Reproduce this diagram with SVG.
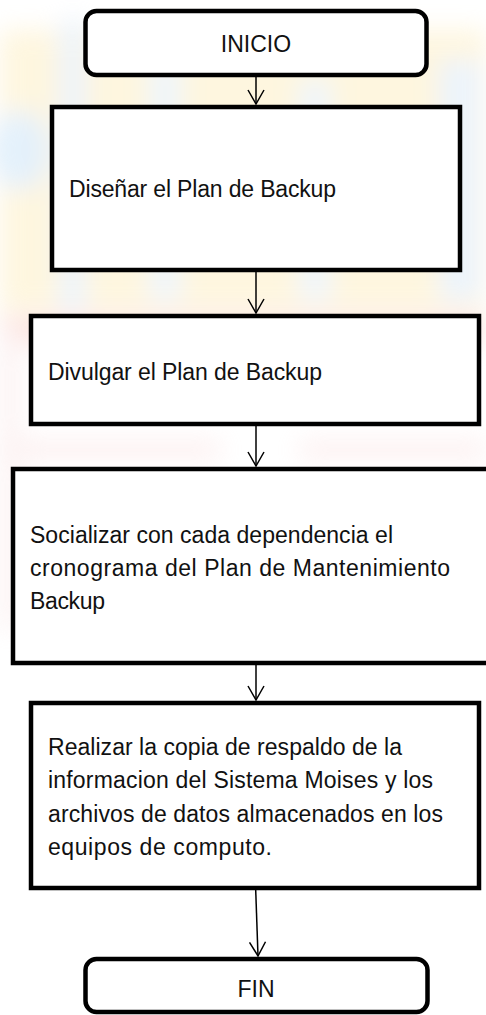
<svg xmlns="http://www.w3.org/2000/svg" width="486" height="1015" viewBox="0 0 486 1015">
<style>
.box{fill:#ffffff;stroke:#000000;stroke-width:4.5}
.t{font-family:"Liberation Sans",Arial,sans-serif;font-size:23px;fill:#111111}
.c{text-anchor:middle}
.ln{stroke:#000000;stroke-width:1.5;fill:none}
</style>
<defs>
<filter id="blur" x="-30%" y="-30%" width="160%" height="160%"><feGaussianBlur stdDeviation="12"/></filter>
<marker id="arr" viewBox="0 0 16 18" refX="15" refY="9" markerWidth="16" markerHeight="18" markerUnits="userSpaceOnUse" orient="auto">
<path d="M1,1 L15,9 L1,17" fill="none" stroke="#000" stroke-width="1.5"/>
</marker>
</defs>
<g id="background" filter="url(#blur)" opacity="0.4">
<rect x="0" y="30" width="486" height="280" fill="#fde9b0"/>
<rect x="60" y="20" width="25" height="290" fill="#cfe3f7"/>
<rect x="150" y="60" width="30" height="240" fill="#d6e8f7"/>
<rect x="300" y="80" width="30" height="220" fill="#d6e8f7"/>
<rect x="440" y="60" width="40" height="240" fill="#cfe3f7"/>
<ellipse cx="20" cy="150" rx="30" ry="40" fill="#bcdcf5"/>
<rect x="0" y="315" width="486" height="30" fill="#f7c0b5"/>
<rect x="20" y="440" width="200" height="20" fill="#f9dcdc"/>
<rect x="300" y="440" width="186" height="20" fill="#f9dcdc"/>
<rect x="0" y="330" width="20" height="300" fill="#f8e0e0"/>
</g>
<g id="connectors">
<line class="ln" x1="256" y1="77" x2="256" y2="104" marker-end="url(#arr)"/>
<line class="ln" x1="256" y1="272" x2="256" y2="313" marker-end="url(#arr)"/>
<line class="ln" x1="256" y1="426" x2="256" y2="466" marker-end="url(#arr)"/>
<line class="ln" x1="256" y1="665" x2="256" y2="700" marker-end="url(#arr)"/>
<line class="ln" x1="255.7" y1="890" x2="258" y2="956" marker-end="url(#arr)"/>
</g>
<g id="inicio">
<rect class="box" x="85.5" y="11" width="341" height="64" rx="11"/>
<text class="t c" x="256" y="52" font-size="21">INICIO</text>
</g>
<g id="disenar">
<rect class="box" x="52" y="107" width="408" height="163"/>
<text class="t" x="69" y="197" textLength="267">Diseñar el Plan de Backup</text>
</g>
<g id="divulgar">
<rect class="box" x="31" y="316" width="448" height="108"/>
<text class="t" x="48" y="380" textLength="274">Divulgar el Plan de Backup</text>
</g>
<g id="socializar">
<rect class="box" x="13" y="469" width="482" height="194"/>
<text class="t" x="30" y="543" textLength="363">Socializar con cada dependencia el</text>
<text class="t" x="30" y="576" textLength="420">cronograma del Plan de Mantenimiento</text>
<text class="t" x="30" y="609" textLength="75">Backup</text>
</g>
<g id="realizar">
<rect class="box" x="31" y="703" width="448" height="185"/>
<text class="t" x="48" y="755" textLength="354">Realizar la copia de respaldo de la</text>
<text class="t" x="48" y="788" textLength="385">informacion del Sistema Moises y los</text>
<text class="t" x="48" y="822" textLength="395">archivos de datos almacenados en los</text>
<text class="t" x="48" y="855" textLength="224">equipos de computo.</text>
</g>
<g id="fin">
<rect class="box" x="85.5" y="959" width="342" height="53" rx="11"/>
<text class="t c" x="256" y="997" font-size="21">FIN</text>
</g>
</svg>
